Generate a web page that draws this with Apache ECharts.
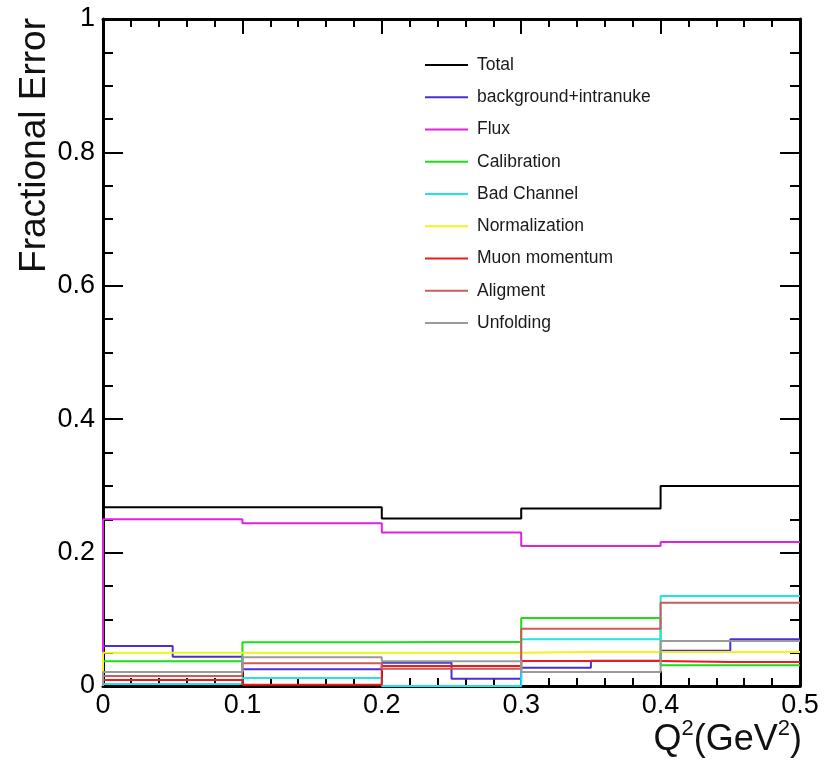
<!DOCTYPE html>
<html>
<head>
<meta charset="utf-8">
<script src="https://cdn.jsdelivr.net/npm/echarts@6/dist/echarts.min.js"></script>
<style>
  html, body { margin: 0; padding: 0; background: #fff; }
  #chart { width: 827px; height: 760px; }
</style>
</head>
<body>
<div id="chart"></div>
<script>
// Q^2 bin edges (GeV^2), 0.05 wide
const binEdges = [0, 0.05, 0.1, 0.15, 0.2, 0.25, 0.3, 0.35, 0.4, 0.45, 0.5];

// Fractional error per bin for each systematic source
const total         = [0.268, 0.268, 0.268, 0.268, 0.251, 0.251, 0.266, 0.266, 0.300, 0.300];
const bgIntranuke   = [0.060, 0.044, 0.025, 0.025, 0.035, 0.011, 0.0275, 0.038, 0.053, 0.070];
const flux          = [0.250, 0.250, 0.244, 0.244, 0.230, 0.230, 0.210, 0.210, 0.216, 0.216];
const calibration   = [0.037, 0.037, 0.0655, 0.0655, 0.066, 0.066, 0.102, 0.102, 0.031, 0.031];
const badChannel    = [0.003, 0.003, 0.012, 0.012, 0.000, 0.000, 0.070, 0.070, 0.135, 0.135];
const normalization = [0.050, 0.050, 0.050, 0.050, 0.050, 0.050, 0.051, 0.051, 0.051, 0.051];
const muonMomentum  = [0.009, 0.009, 0.002, 0.002, 0.030, 0.030, 0.0375, 0.0375, 0.036, 0.036];
const alignment     = [0.015, 0.015, 0.034, 0.034, 0.026, 0.026, 0.086, 0.086, 0.125, 0.125];
const unfolding     = [0.021, 0.021, 0.043, 0.043, 0.037, 0.037, 0.021, 0.021, 0.0675, 0.0675];

const seriesNames = ['Total', 'background+intranuke', 'Flux', 'Calibration', 'Bad Channel',
                     'Normalization', 'Muon momentum', 'Aligment', 'Unfolding'];
const seriesValues = [total, bgIntranuke, flux, calibration, badChannel,
                      normalization, muonMomentum, alignment, unfolding];
const seriesColors = ['#000000', '#4b2fd6', '#e021e0', '#19e019', '#1de6e6',
                      '#f2f21a', '#ee1a1a', '#d05a5a', '#9a9a9a'];

// Histogram outline: rise from zero at the first edge, then one flat step per bin
function histPoints(vals) {
  const pts = [[binEdges[0], 0]];
  vals.forEach((v, i) => pts.push([binEdges[i], v]));
  pts.push([binEdges[binEdges.length - 1], vals[vals.length - 1]]);
  return pts;
}

const FONT = 'Liberation Sans';
const chart = echarts.init(document.getElementById('chart'), null, { renderer: 'canvas' });

const tickCommon = {
  axisLine: { show: true, onZero: false, lineStyle: { color: '#000', width: 3 } },
  splitLine: { show: false },
};

const option = {
  backgroundColor: '#fff',
  animation: false,
  grid: { left: 103, right: 27, top: 19, bottom: 74, containLabel: false },
  legend: {
    orient: 'vertical',
    left: 420,
    top: 51,
    itemWidth: 43,
    itemHeight: 2,
    itemGap: 14.25,
    icon: 'rect',
    textStyle: { fontFamily: FONT, fontSize: 17.5, color: '#1a1a1a', lineHeight: 18, padding: [0, 0, 0, 4] },
    data: seriesNames,
  },
  xAxis: [
    Object.assign({
      type: 'value', min: 0, max: 0.5, interval: 0.1, position: 'bottom',
      axisTick: { show: true, inside: true, length: 15, lineStyle: { color: '#000', width: 2 } },
      minorTick: { show: true, splitNumber: 5, length: 8, lineStyle: { color: '#000', width: 2 } },
      axisLabel: {
        fontFamily: FONT, fontSize: 27, color: '#000', margin: 6,
        formatter: v => (v === 0 ? '0' : v.toFixed(1)),
      },
    }, tickCommon),
    Object.assign({
      type: 'value', min: 0, max: 0.5, interval: 0.1, position: 'top',
      axisTick: { show: true, inside: true, length: 15, lineStyle: { color: '#000', width: 2 } },
      minorTick: { show: true, splitNumber: 5, length: 8, lineStyle: { color: '#000', width: 2 } },
      axisLabel: { show: false },
    }, tickCommon),
  ],
  yAxis: [
    Object.assign({
      type: 'value', min: 0, max: 1, interval: 0.2, position: 'left',
      axisTick: { show: true, inside: true, length: 20, lineStyle: { color: '#000', width: 2 } },
      minorTick: { show: true, splitNumber: 4, length: 10, lineStyle: { color: '#000', width: 2 } },
      axisLabel: {
        fontFamily: FONT, fontSize: 27, color: '#000', margin: 8,
        formatter: v => (v === 0 ? '0' : v === 1 ? '1' : v.toFixed(1)),
      },
    }, tickCommon),
    Object.assign({
      type: 'value', min: 0, max: 1, interval: 0.2, position: 'right',
      axisTick: { show: true, inside: true, length: 20, lineStyle: { color: '#000', width: 2 } },
      minorTick: { show: true, splitNumber: 4, length: 10, lineStyle: { color: '#000', width: 2 } },
      axisLabel: { show: false },
    }, tickCommon),
  ],
  series: seriesNames.map((name, i) => ({
    name: name,
    type: 'line',
    step: 'end',
    xAxisIndex: 0,
    yAxisIndex: 0,
    symbol: 'none',
    color: seriesColors[i],
    lineStyle: { color: seriesColors[i], width: 2 },
    data: histPoints(seriesValues[i]),
  })),
  graphic: [
    {
      type: 'text',
      x: 35, y: 18,
      rotation: Math.PI / 2,
      style: {
        text: 'Fractional Error',
        font: '37px "Liberation Sans"',
        fill: '#111',
        textAlign: 'right',
        textVerticalAlign: 'middle',
      },
    },
    {
      type: 'text',
      x: 802, y: 758,
      style: {
        text: '{m|Q}{s|2}{m|(GeV}{s|2}{m|)}',
        textAlign: 'right',
        textVerticalAlign: 'bottom',
        rich: {
          m: { fontFamily: FONT, fontSize: 36, fill: '#111', lineHeight: 40, verticalAlign: 'bottom' },
          s: { fontFamily: FONT, fontSize: 22, fill: '#111', lineHeight: 40, verticalAlign: 'top', padding: [0, 0, 20, 0] },
        },
      },
    },
  ],
};

chart.setOption(option);
</script>
</body>
</html>
